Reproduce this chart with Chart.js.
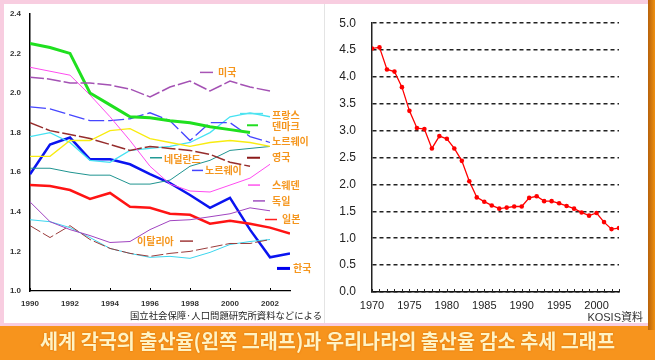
<!DOCTYPE html>
<html><head><meta charset="utf-8">
<script src="https://cdn.jsdelivr.net/npm/chart.js@4.4.1/dist/chart.umd.min.js"></script>
<style>
html,body{margin:0;padding:0;}
body{width:655px;height:360px;position:relative;overflow:hidden;background:#f7941d;}
.abs{position:absolute;}
#pink{left:0;top:0;width:649px;height:326px;background:#f8cde0;}
#white{left:4px;top:4px;width:644px;height:319px;background:#fff;}
#stripe{left:648px;top:0;width:7px;height:330px;background:linear-gradient(to right,#b8620a,#d87e10 60%,#f0900f);}
#divider{left:324px;top:4px;width:1px;height:319px;background:#e4e4e4;}
#c1{left:5px;top:0;width:320px;height:322px;}
#c2{left:326px;top:0;width:320px;height:322px;}
#src1{left:130px;top:309px;font:9px "Noto Sans CJK JP";color:#222;white-space:nowrap;transform-origin:0 0;}
#src2{right:12px;top:308px;font:11px "Liberation Sans","Noto Sans CJK JP";color:#333;white-space:nowrap;}
#title{left:0;top:326px;width:655px;height:34px;line-height:32px;text-align:center;white-space:nowrap;}
#tt{display:inline-block;font:bold 20px "Noto Sans CJK KR";color:#fff3c4;text-shadow:0 0 2px #d46c00;transform-origin:50% 50%;}
</style></head>
<body>
<div id="pink" class="abs"></div>
<div id="white" class="abs"></div>
<div id="stripe" class="abs"></div>
<div id="divider" class="abs"></div>
<canvas id="c1" class="abs" width="320" height="322"></canvas>
<canvas id="c2" class="abs" width="320" height="322"></canvas>
<div id="src1" class="abs">国立社会保障·人口問題研究所資料などによる</div>
<div id="src2" class="abs">KOSIS資料</div>
<div id="title" class="abs"><span id="tt">세계 각국의 출산율(왼쪽 그래프)과 우리나라의 출산율 감소 추세 그래프</span></div>
<script>
// ---------- Left chart data (1990-2003) ----------
const years1 = [1990,1991,1992,1993,1994,1995,1996,1997,1998,1999,2000,2001,2002,2003];
const usa     = [2.08,2.07,2.05,2.05,2.04,2.02,1.98,2.03,2.06,2.01,2.06,2.03,2.01,null];
const denmark = [2.25,2.23,2.20,2.00,1.94,1.88,1.875,1.86,1.85,1.83,1.815,1.80,null,null];
const sweden  = [2.13,2.11,2.09,1.99,1.88,1.76,1.63,1.54,1.505,1.50,1.535,1.57,1.64,null];
const norway  = [1.93,1.92,1.89,1.86,1.86,1.87,1.90,1.86,1.76,1.85,1.85,1.78,1.75,null];
const uk      = [1.85,1.81,1.79,1.77,1.74,1.71,1.73,1.72,1.71,1.69,1.65,1.63,null,null];
const yellowS = [1.68,1.68,1.76,1.76,1.81,1.82,1.77,1.75,1.73,1.75,1.76,1.75,1.73,null];
const france  = [1.78,1.80,1.75,1.66,1.65,1.71,1.72,1.73,1.75,1.80,1.88,1.90,1.88,null];
const netherl = [1.62,1.62,1.60,1.585,1.585,1.54,1.54,1.56,1.63,1.66,1.71,1.72,1.73,null];
const korea   = [1.59,1.74,1.775,1.665,1.665,1.64,1.59,1.545,1.485,1.42,1.47,1.31,1.17,1.19];
const japan   = [1.535,1.53,1.51,1.465,1.495,1.425,1.42,1.39,1.385,1.34,1.355,1.34,1.32,1.29];
const germany = [1.45,1.35,1.31,1.28,1.245,1.25,1.31,1.355,1.36,1.375,1.39,1.42,1.405,null];
const italy   = [1.33,1.27,1.33,1.26,1.215,1.19,1.175,1.19,1.20,1.22,1.24,1.24,1.26,null];
const cyanLow = [1.36,1.35,1.32,1.27,1.215,1.19,1.17,1.175,1.165,1.195,1.235,1.25,1.26,null];
const xTicks1 = [1990,1992,1994,1996,1998,2000,2002];
const yTicks1 = [1.0,1.2,1.4,1.6,1.8,2.0,2.2,2.4];

// ---------- Right chart data (Korea 1970-2003) ----------
const years2 = [1970,1971,1972,1973,1974,1975,1976,1977,1978,1979,1980,1981,1982,1983,1984,1985,1986,1987,1988,1989,1990,1991,1992,1993,1994,1995,1996,1997,1998,1999,2000,2001,2002,2003];
const korTfr = [4.53,4.55,4.14,4.10,3.81,3.37,3.05,3.03,2.67,2.90,2.85,2.67,2.44,2.06,1.76,1.68,1.61,1.55,1.57,1.59,1.59,1.75,1.78,1.69,1.69,1.65,1.60,1.55,1.48,1.42,1.47,1.30,1.17,1.19];
const xTicks2 = [1970,1975,1980,1985,1990,1995,2000];
const yTicks2 = [0,0.5,1.0,1.5,2.0,2.5,3.0,3.5,4.0,4.5,5.0];

// label annotations for left chart: text, dash colour, dash width, dash x1, x2, dash y, text x, text y
const leftNotes = [
 ['미국','#a855b5',1.5,1998.5,1999.15,2.104,1999.4,2.104],
 ['프랑스','#4fe3f0',1.5,2000.5,2001.65,1.896,2002.1,1.89],
 ['덴마크','#22dd22',2,2000.85,2001.4,1.837,2002.1,1.832],
 ['노르웨이',null,0,0,0,0,2002.1,1.757],
 ['네덜란드','#229a95',1.5,1996.0,1996.6,1.673,1996.7,1.668],
 ['노르웨이','#4444ff',1.5,1998.1,1998.65,1.609,1998.75,1.609],
 ['영국','#8b1a1a',2,2000.85,2001.5,1.673,2002.1,1.675],
 ['스웨덴','#ff55ee',1.5,2000.9,2001.5,1.535,2002.1,1.535],
 ['독일','#a050c0',1.5,2001.15,2001.75,1.455,2002.1,1.455],
 ['일본','#ff2020',1.5,2001.75,2002.35,1.361,2002.6,1.361],
 ['이탈리아','#a03a3a',1.5,1997.5,1998.15,1.252,1995.35,1.252],
 ['한국','#0000ee',3,2002.35,2003.0,1.114,2003.15,1.114]
];

function pts(xs, ys){ return xs.map((x,i)=>({x:x, y:ys[i]})); }

const leftSeries = [
 {label:'미국', data:usa, color:'#a452b4', w:1.5, dash:[14,3]},
 {label:'덴마크', data:denmark, color:'#1fe01f', w:3},
 {label:'스웨덴', data:sweden, color:'#ff4cf0', w:1},
 {label:'노르웨이', data:norway, color:'#4646ff', w:1.3, dash:[16,4]},
 {label:'영국', data:uk, color:'#962d2d', w:1.5, dash:[14,3]},
 {label:'기타', data:yellowS, color:'#f8ec10', w:1.3},
 {label:'프랑스', data:france, color:'#46e2f2', w:1.3},
 {label:'네덜란드', data:netherl, color:'#1f9490', w:1},
 {label:'독일', data:germany, color:'#a044c0', w:1},
 {label:'이탈리아', data:italy, color:'#9a3c3c', w:1, dash:[12,3]},
 {label:'기타2', data:cyanLow, color:'#3cd6ee', w:1},
 {label:'일본', data:japan, color:'#ff1414', w:2.5},
 {label:'한국', data:korea, color:'#0a14f0', w:2.5}
];

const notesPlugin = {
  id:'notes',
  afterDatasetsDraw(chart){
    const ctx = chart.ctx, x = chart.scales.x, y = chart.scales.y;
    ctx.save();
    // small inner ticks on x axis
    ctx.strokeStyle = '#000'; ctx.lineWidth = 1;
    xTicks1.forEach(v=>{ const px = Math.round(x.getPixelForValue(v))+0.5; ctx.beginPath(); ctx.moveTo(px, y.bottom); ctx.lineTo(px, y.bottom-3); ctx.stroke(); });
    ctx.font = 'bold 10px "Noto Sans CJK KR"';
    ctx.textBaseline = 'middle'; ctx.textAlign = 'left';
    leftNotes.forEach(n=>{
      if (n[1]) {
        ctx.strokeStyle = n[1]; ctx.lineWidth = n[2];
        ctx.beginPath();
        ctx.moveTo(x.getPixelForValue(n[3]), y.getPixelForValue(n[5]));
        ctx.lineTo(x.getPixelForValue(n[4]), y.getPixelForValue(n[5]));
        ctx.stroke();
      }
      ctx.fillStyle = '#f5961e';
      ctx.fillText(n[0], x.getPixelForValue(n[6]), y.getPixelForValue(n[7]));
    });
    ctx.restore();
  }
};

new Chart(document.getElementById('c1'), {
  type:'line',
  data:{ datasets: leftSeries.map(s=>({
    label:s.label, data:pts(years1, s.data), borderColor:s.color, backgroundColor:s.color,
    borderWidth:s.w, borderDash:s.dash||[], pointRadius:0, tension:0, spanGaps:false, fill:false
  })) },
  options:{
    responsive:false, animation:false, devicePixelRatio:1,
    layout:{padding:{left:0, top:8, right:35, bottom:0}},
    plugins:{legend:{display:false}, tooltip:{enabled:false}},
    scales:{
      x:{ type:'linear', min:1990, max:2003,
          afterBuildTicks(s){ s.ticks = xTicks1.map(v=>({value:v})); },
          afterFit(s){ s.height = 31; },
          grid:{display:false, drawTicks:false},
          border:{display:true, color:'#000', width:1.2},
          ticks:{padding:8, color:'#333', font:{size:8, weight:'bold', family:'Liberation Sans'}, maxRotation:0, autoSkip:false, callback:v=>String(v)} },
      y:{ type:'linear', min:1.0, max:2.4,
          afterBuildTicks(s){ s.ticks = yTicks1.map(v=>({value:v})); },
          afterFit(s){ s.width = 25; },
          grid:{display:false, drawTicks:false},
          border:{display:true, color:'#000', width:1.5},
          ticks:{padding:9, color:'#333', font:{size:8, weight:'bold', family:'Liberation Sans'}, callback:v=>v.toFixed(1)} }
    }
  },
  plugins:[notesPlugin]
});

const minorTickPlugin = {
  id:'minor',
  afterDraw(chart){
    const ctx = chart.ctx, x = chart.scales.x, y = chart.scales.y;
    ctx.save(); ctx.strokeStyle = '#222'; ctx.lineWidth = 1;
    years2.forEach(v=>{ const px = Math.round(x.getPixelForValue(v))+0.5; ctx.beginPath(); ctx.moveTo(px, y.bottom); ctx.lineTo(px, y.bottom-3); ctx.stroke(); });
    ctx.restore();
  }
};

new Chart(document.getElementById('c2'), {
  type:'line',
  data:{ datasets:[{ label:'합계출산율', data:pts(years2, korTfr), borderColor:'#ff0000', backgroundColor:'#ff0000',
    borderWidth:1.3, pointRadius:2.3, pointBorderWidth:0, pointBackgroundColor:'#ff0000', tension:0, fill:false }] },
  options:{
    responsive:false, animation:false, devicePixelRatio:1,
    layout:{padding:{left:0, top:18, right:27, bottom:0}},
    plugins:{legend:{display:false}, tooltip:{enabled:false}},
    scales:{
      x:{ type:'linear', min:1970, max:2003,
          afterBuildTicks(s){ s.ticks = xTicks2.map(v=>({value:v})); },
          afterFit(s){ s.height = 30; },
          grid:{display:false, drawTicks:false},
          border:{display:true, color:'#111', width:1.5},
          ticks:{padding:7, color:'#222', font:{size:11, family:'Liberation Sans'}, maxRotation:0, autoSkip:false, callback:v=>String(v)} },
      y:{ type:'linear', min:0, max:5,
          afterBuildTicks(s){ s.ticks = yTicks2.map(v=>({value:v})); },
          afterFit(s){ s.width = 46; },
          grid:{display:true, drawTicks:false, color:'#222', lineWidth:1.5},
          border:{display:true, color:'#222', width:1.5, dash:[4,3]},
          ticks:{padding:16, color:'#222', font:{size:12, family:'Liberation Sans'}, callback:v=>v.toFixed(1)} }
    }
  },
  plugins:[minorTickPlugin]
});

// fit the title width to the reference band
const tt = document.getElementById('tt');
const w = tt.getBoundingClientRect().width;
tt.style.transform = 'scaleX(' + (575 / w) + ')';
const s1 = document.getElementById('src1');
const w1 = s1.getBoundingClientRect().width;
s1.style.transform = 'scaleX(' + (192 / w1) + ')';
</script>
</body></html>
